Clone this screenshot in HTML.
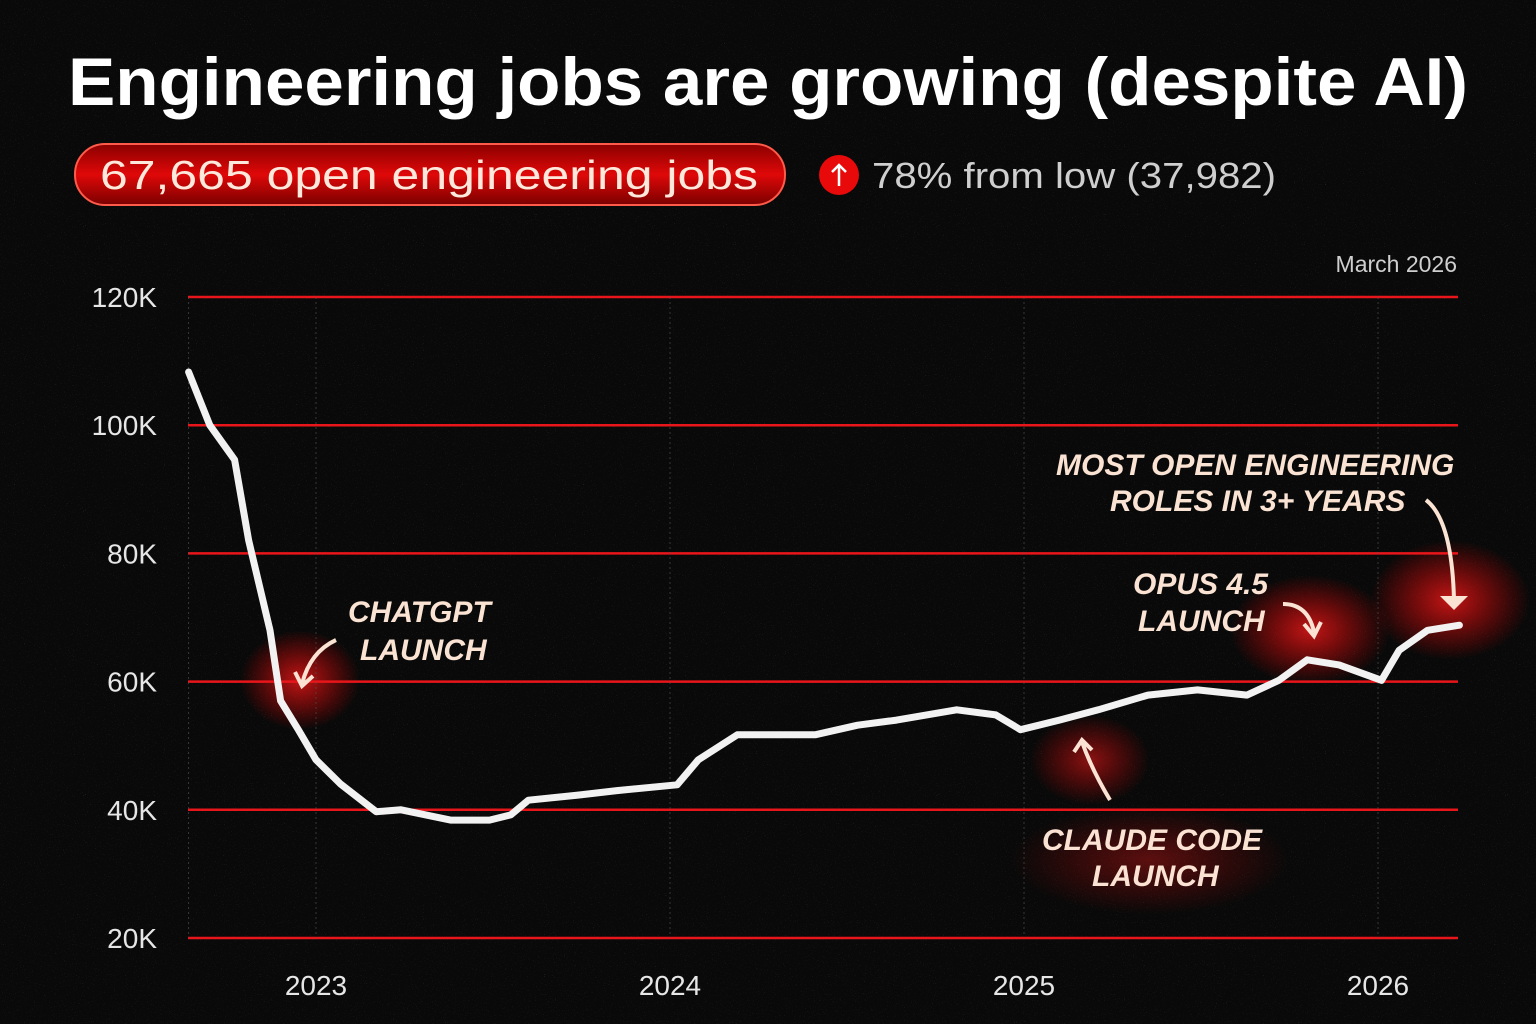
<!DOCTYPE html>
<html><head><meta charset="utf-8"><style>
html,body{margin:0;padding:0;background:#080808;}
svg{display:block;}
text{font-family:"Liberation Sans",sans-serif;}
</style></head><body>
<svg id="chart" width="1536" height="1024" viewBox="0 0 1536 1024" xmlns="http://www.w3.org/2000/svg">
<defs>
<filter id="noise"><feTurbulence type="fractalNoise" baseFrequency="0.9" numOctaves="2" seed="3"/><feColorMatrix values="0 0 0 0 1 0 0 0 0 1 0 0 0 0 1 0 0 0 1.6 -1.05"/></filter>
<radialGradient id="glow"><stop offset="0" stop-color="#ff1a1a" stop-opacity="0.75"/><stop offset="1" stop-color="#ff0000" stop-opacity="0"/></radialGradient>
<linearGradient id="pillg" x1="0" y1="0" x2="0" y2="1"><stop offset="0" stop-color="#8a0000"/><stop offset="0.5" stop-color="#e00808"/><stop offset="1" stop-color="#7a0000"/></linearGradient>
</defs>
<rect width="1536" height="1024" fill="#090909"/>
<rect width="1536" height="1024" filter="url(#noise)" opacity="0.35"/>
<text x="68" y="105" font-size="68" font-weight="bold" fill="#fff" textLength="1400" lengthAdjust="spacingAndGlyphs">Engineering jobs are growing (despite AI)</text>
<rect x="75" y="144" width="710" height="61" rx="30" fill="url(#pillg)" stroke="#ff5a4a" stroke-width="2"/>
<text x="100" y="189" font-size="41" fill="#fde8dc" textLength="658" lengthAdjust="spacingAndGlyphs">67,665 open engineering jobs</text>
<circle cx="839" cy="175" r="20" fill="#e80a0a"/>
<path d="M839 186 V165 M832 172 L839 165 L846 172" stroke="#fff" stroke-width="2.5" fill="none"/>
<text x="872" y="188" font-size="36" fill="#cfcfcf" textLength="404" lengthAdjust="spacingAndGlyphs">78% from low (37,982)</text>
<text x="1457" y="272" font-size="23" fill="#cfcfcf" text-anchor="end">March 2026</text>
<g id="glows">
<ellipse cx="300" cy="680" rx="60" ry="50" fill="url(#glow)"/>
<ellipse cx="1090" cy="760" rx="60" ry="45" fill="url(#glow)" opacity="0.7"/>
<ellipse cx="1150" cy="860" rx="140" ry="55" fill="url(#glow)" opacity="0.45"/>
<ellipse cx="1310" cy="630" rx="80" ry="55" fill="url(#glow)"/>
<ellipse cx="1450" cy="600" rx="80" ry="60" fill="url(#glow)"/>
</g>
<g id="grid"></g>
<g id="axes"></g>
<path id="line" fill="none" stroke="#f2f2f2" stroke-width="7" stroke-linejoin="round" stroke-linecap="round"/>
<g font-family="Liberation Sans" font-style="italic" font-weight="bold" fill="#fbe3d3" font-size="30">
<text x="348" y="622">CHATGPT</text>
<text x="360" y="660">LAUNCH</text>
<path d="M336 640 Q310 652 302 684 M295 672 L302 686 L313 676" stroke="#fbe3d3" stroke-width="4" fill="none"/>
<text x="1042" y="850">CLAUDE CODE</text>
<text x="1092" y="886">LAUNCH</text>
<path d="M1110 800 Q1092 770 1082 742 M1074 752 L1082 740 L1092 750" stroke="#fbe3d3" stroke-width="4" fill="none"/>
<text x="1133" y="594">OPUS 4.5</text>
<text x="1138" y="631">LAUNCH</text>
<path d="M1283 604 Q1308 604 1314 632 M1304 624 L1314 636 L1321 622" stroke="#fbe3d3" stroke-width="4" fill="none"/>
<text x="1056" y="475">MOST OPEN ENGINEERING</text>
<text x="1110" y="511">ROLES IN 3+ YEARS</text>
<path d="M1426 500 Q1452 520 1454 600" stroke="#fbe3d3" stroke-width="4" fill="none"/>
<path d="M1440 596 L1468 596 L1454 610 Z" fill="#fbe3d3"/>
</g>
</svg>
<script>
const dates=[2022.64,2022.70,2022.77,2022.81,2022.87,2022.90,2022.95,2023.00,2023.07,2023.17,2023.24,2023.38,2023.49,2023.55,2023.60,2023.74,2023.85,2024.02,2024.08,2024.19,2024.30,2024.41,2024.53,2024.64,2024.81,2024.92,2024.99,2025.10,2025.21,2025.35,2025.49,2025.63,2025.72,2025.80,2025.89,2026.01,2026.06,2026.14,2026.23];
const jobs=[108.3,100,94.6,82,68,57,52.5,47.8,44,39.7,40,38.4,38.4,39.2,41.5,42.3,43,43.9,47.8,51.7,51.7,51.7,53.2,54,55.6,54.8,52.5,54,55.6,57.9,58.7,57.9,60.2,63.4,62.6,60.2,64.9,68,68.8];
const yTicks=[20,40,60,80,100,120];
const yLabels=["20K","40K","60K","80K","100K","120K"];
const xTicks=[2023,2024,2025,2026];
const xLabels=["2023","2024","2025","2026"];
const NS="http://www.w3.org/2000/svg";
const X=d=>316+(d-2023)*354;
const Y=v=>938-(v-20)*(641/100);
const grid=document.getElementById('grid'),axes=document.getElementById('axes');
yTicks.forEach((t,i)=>{
 const l=document.createElementNS(NS,'line');
 l.setAttribute('x1',188);l.setAttribute('x2',1458);l.setAttribute('y1',Y(t));l.setAttribute('y2',Y(t));
 l.setAttribute('stroke','#e8161a');l.setAttribute('stroke-width','2.5');
 
 
 grid.appendChild(l);
 const tx=document.createElementNS(NS,'text');
 tx.setAttribute('x',157);tx.setAttribute('y',Y(t)+10);tx.setAttribute('text-anchor','end');
 tx.setAttribute('font-size','28');tx.setAttribute('fill','#e6e6e6');tx.textContent=yLabels[i];
 
 
 axes.appendChild(tx);
});
[2022.64].concat(xTicks).forEach(t=>{
 const l=document.createElementNS(NS,'line');
 l.setAttribute('x1',X(t));l.setAttribute('x2',X(t));l.setAttribute('y1',297);l.setAttribute('y2',938);
 l.setAttribute('stroke','#555');l.setAttribute('stroke-width','1');l.setAttribute('stroke-dasharray','2 3');l.setAttribute('opacity','0.6');
 
 
 grid.appendChild(l);
});
xTicks.forEach((t,i)=>{
 const tx=document.createElementNS(NS,'text');
 tx.setAttribute('x',X(t));tx.setAttribute('y',995);tx.setAttribute('text-anchor','middle');
 tx.setAttribute('font-size','28');tx.setAttribute('fill','#e6e6e6');tx.textContent=xLabels[i];
 
 
 axes.appendChild(tx);
});
document.getElementById('line').setAttribute('d',dates.map((d,i)=>(i?'L':'M')+X(d).toFixed(1)+' '+Y(jobs[i]).toFixed(1)).join(' '));
</script>
</body></html>
